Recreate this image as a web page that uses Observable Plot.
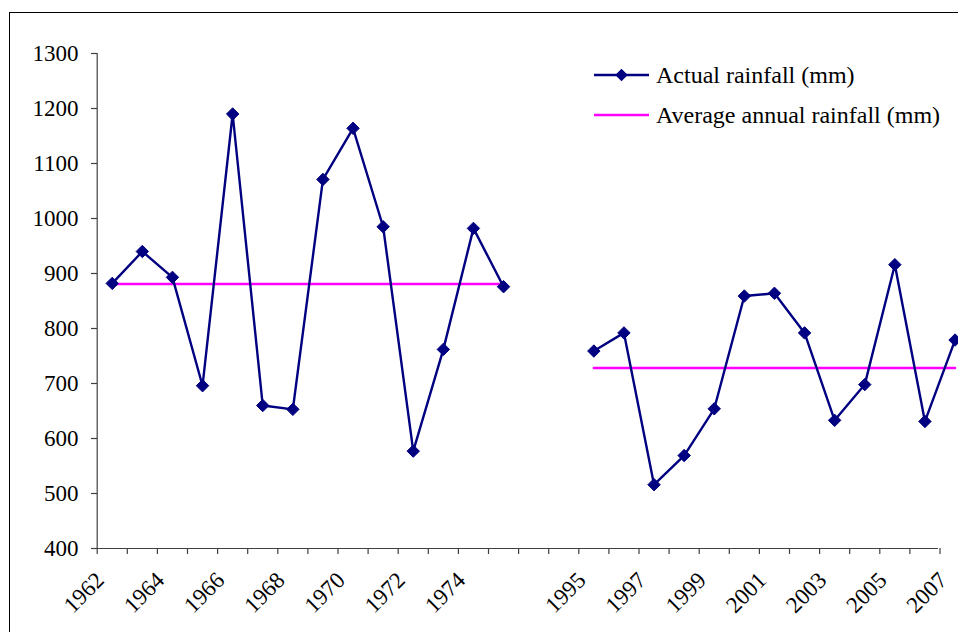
<!DOCTYPE html>
<html><head><meta charset="utf-8">
<script src="https://cdn.jsdelivr.net/npm/d3@7"></script>
<script src="https://cdn.jsdelivr.net/npm/@observablehq/plot@0.6"></script>
<style>
html,body{margin:0;padding:0;overflow:hidden;background:#fff;width:958px;height:632px;}
#wrap{position:relative;width:958px;height:632px;overflow:hidden;}
#border{position:absolute;left:9px;top:12px;width:2000px;height:2000px;border:1px solid #000;box-sizing:border-box;}
#chart{position:absolute;left:0;top:0;}
#chart svg text{font-family:"Liberation Serif","Times New Roman",serif;}
#legend{position:absolute;left:594px;top:55px;font-family:"Liberation Serif","Times New Roman",serif;font-size:24px;color:#000;}
#legend .row{display:flex;align-items:center;height:40px;white-space:nowrap;}
#legend svg{margin-right:6px;}
</style></head><body>
<div id="wrap"><div id="border"></div><div id="chart"></div><div id="legend"></div></div>
<script>
// Categories (two blank categories separate the two periods)
const years = ["1962","1963","1964","1965","1966","1967","1968","1969","1970","1971","1972","1973","1974","1975",
  "","",
  "1995","1996","1997","1998","1999","2000","2001","2002","2003","2004","2005","2006","2007"];
// Actual rainfall (mm)
const actual = [882, 940, 893, 696, 1190, 660, 653, 1071, 1164, 985, 577, 762, 982, 876,
  null, null,
  759, 792, 516, 569, 654, 859, 864, 792, 633, 698, 916, 631, 779];
// Average annual rainfall (mm) for each period
const average = [881, 881, 881, 881, 881, 881, 881, 881, 881, 881, 881, 881, 881, 881,
  null, null,
  728, 728, 728, 728, 728, 728, 728, 728, 728, 728, 728, 728, 728];
const yTicks = [400, 500, 600, 700, 800, 900, 1000, 1100, 1200, 1300];
const labelEvery = 2;
const seriesNames = ["Actual rainfall (mm)", "Average annual rainfall (mm)"];
const colors = ["#000080", "#ff00ff"];

const data = years.map((y, i) => ({i, year: y, actual: actual[i], average: average[i]}));
const boundaries = d3.range(0, years.length + 1);
const labelled = data.filter(d => d.i % labelEvery === 0 && d.year !== "");

const font = '"Liberation Serif","Times New Roman",serif';
const axisColor = "#404040";
const chart = Plot.plot({
  width: 958,
  height: 632,
  marginTop: 53,
  marginBottom: 84,
  marginLeft: 97,
  style: {fontFamily: font, fontSize: "23px", color: "#000", background: "transparent", overflow: "hidden"},
  x: {type: "linear", domain: [0, years.length], range: [96.7, 96.7 + 30.1 * years.length]},
  y: {type: "linear", domain: [400, 1300], range: [548, 53]},
  marks: [
    Plot.ruleY([400], {stroke: axisColor, strokeWidth: 1.2}),
    Plot.ruleX([0], {stroke: axisColor, strokeWidth: 1.2}),
    Plot.axisX(boundaries, {tickSize: 6, tickFormat: () => "", stroke: axisColor, strokeWidth: 1.2, anchor: "bottom"}),
    Plot.axisX(labelled.map(d => d.i + 0.5), {tickSize: 0, tickRotate: -45, tickPadding: 12, dx: -12, dy: 16,
      tickFormat: v => years[Math.round(v - 0.5)], anchor: "bottom", fontSize: 23, fontFamily: font, fill: "#000"}),
    Plot.axisY(yTicks, {tickSize: 6, tickPadding: 13, tickFormat: d => String(d), stroke: axisColor, strokeWidth: 1.2,
      fontSize: 23, fontFamily: font, fill: "#000", anchor: "left"}),
    Plot.line(data, {x: d => d.i + 0.5, y: "average", stroke: colors[1], strokeWidth: 2.5}),
    Plot.line(data, {x: d => d.i + 0.5, y: "actual", stroke: colors[0], strokeWidth: 2.4}),
    Plot.dot(data.filter(d => d.actual != null), {x: d => d.i + 0.5, y: "actual", symbol: "diamond2", r: 5.6, fill: colors[0], stroke: colors[0], strokeWidth: 1})
  ]
});
document.getElementById("chart").appendChild(chart);

// Legend
const legend = d3.select("#legend");
seriesNames.forEach((name, k) => {
  const row = legend.append("div").attr("class", "row");
  const sw = row.append("svg").attr("width", 56).attr("height", 20);
  sw.append("line").attr("x1", 0).attr("x2", 55).attr("y1", 10).attr("y2", 10)
    .attr("stroke", colors[k]).attr("stroke-width", k === 0 ? 2.4 : 2.5);
  if (k === 0) {
    sw.append("path").attr("d", d3.symbol(d3.symbolDiamond2, 100)()).attr("transform", "translate(27.5,10)")
      .attr("fill", colors[k]);
  }
  row.append("span").text(name);
});
</script>
</body></html>
